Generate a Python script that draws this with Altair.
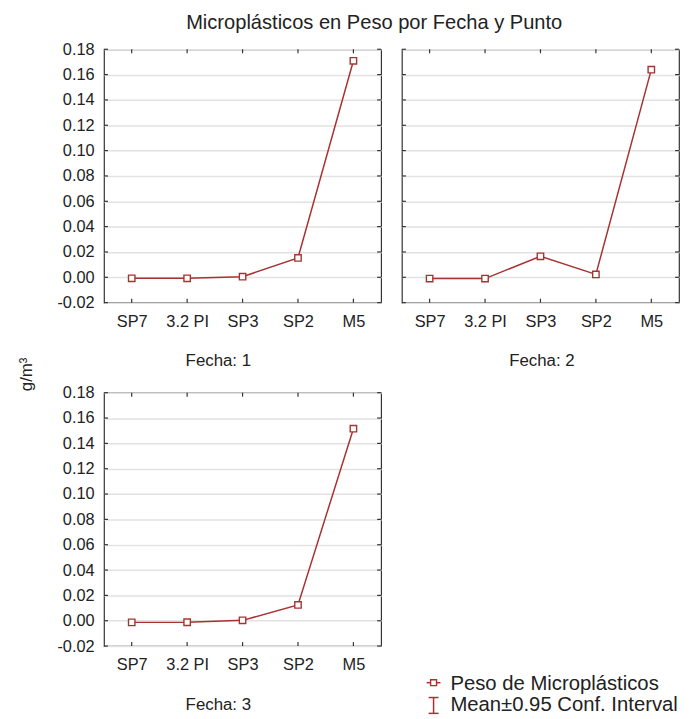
import altair as alt
import pandas as pd

# ---- data ----
puntos = ["SP7", "3.2 PI", "SP3", "SP2", "M5"]
peso_fecha1 = [-0.0008, -0.0008, 0.0005, 0.0153, 0.1709]
peso_fecha2 = [-0.0010, -0.0010, 0.0166, 0.0023, 0.1639]
peso_fecha3 = [-0.0013, -0.0012, 0.0003, 0.0125, 0.1516]
fecha_labels = ["Fecha: 1", "Fecha: 2", "Fecha: 3"]
y_ticks = [-0.02, 0.0, 0.02, 0.04, 0.06, 0.08, 0.10, 0.12, 0.14, 0.16, 0.18]
legend_labels = ["Peso de Microplásticos", "Mean±0.95 Conf. Interval"]
chart_title = "Microplásticos en Peso por Fecha y Punto"
y_title = "g/m³"

RED = "#a83232"
FONT = "Liberation Sans"
TXT = "#222222"
W, H = 280, 256


def panel(values, fecha, show_y_labels, title_x, ytitle=""):
    df = pd.DataFrame({"punto": puntos, "peso": values})
    xs = alt.Scale(type="point", domain=puntos, padding=0.5)
    ys = alt.Scale(domain=[-0.02, 0.18], nice=False, zero=False)
    x_axis = alt.Axis(
        title=fecha, labelAngle=0, ticks=False, domain=False, grid=False,
        labelFontSize=16.5, labelPadding=11, labelColor=TXT,
        titleFontSize=17, titleFontWeight="normal", titleColor=TXT,
        titleX=title_x, titleY=64, titleBaseline="alphabetic", titleAlign="center",
    )
    y_kwargs = dict(
        values=y_ticks, ticks=False, domain=False, grid=True,
        gridColor="#e2e2e2", gridWidth=1.5,
        labelFontSize=16.5, labelPadding=10, labelColor=TXT, labels=show_y_labels,
        labelExpr="replace(format(datum.value, '.2f'), '\u2212', '-')",
        title=ytitle,
    )
    if ytitle:
        y_kwargs.update(titleFontSize=17, titleFontWeight="normal", titleColor=TXT,
                        titleAngle=270, titleAlign="center", titleBaseline="middle",
                        titleX=-78, titleY=-19)
    y_axis = alt.Axis(**y_kwargs)

    X = alt.X("punto:N", scale=xs, axis=x_axis, sort=puntos)
    base = alt.Chart(df)
    line = base.mark_line(color=RED, strokeWidth=1.5).encode(
        x=X, y=alt.Y("peso:Q", scale=ys, axis=y_axis))
    pts = base.mark_point(shape="square", size=42, filled=True, fill="white",
                          stroke=RED, strokeWidth=1.4, opacity=1).encode(
        x=X, y=alt.Y("peso:Q", scale=ys, axis=y_axis))

    xt = alt.Chart(pd.DataFrame({"punto": puntos}))
    top_ticks = xt.mark_rule(color="#333", strokeWidth=1.2).encode(
        x=X, y=alt.value(0), y2=alt.value(4))
    bot_ticks = xt.mark_rule(color="#333", strokeWidth=1.2).encode(
        x=X, y=alt.value(H - 4), y2=alt.value(H))
    yt = alt.Chart(pd.DataFrame({"v": y_ticks}))
    left_ticks = yt.mark_rule(color="#333", strokeWidth=1.2).encode(
        y=alt.Y("v:Q", scale=ys, axis=y_axis), x=alt.value(0), x2=alt.value(4))
    right_ticks = yt.mark_rule(color="#333", strokeWidth=1.2).encode(
        y=alt.Y("v:Q", scale=ys, axis=y_axis), x=alt.value(W - 4), x2=alt.value(W))

    return alt.layer(line, top_ticks, bot_ticks, left_ticks, right_ticks, pts).properties(
        width=W, height=H)


p1 = panel(peso_fecha1, fecha_labels[0], True, 115)
p2 = panel(peso_fecha2, fecha_labels[1], False, 141)
p3 = panel(peso_fecha3, fecha_labels[2], True, 115, ytitle=y_title)

# ---- legend drawn as a small panel ----
leg_data = alt.Data(values=[{"a": legend_labels[0], "b": legend_labels[1]}])
lb = alt.Chart(leg_data)
leg_line = lb.mark_rule(color=RED, strokeWidth=1.5).encode(
    x=alt.value(25), x2=alt.value(39), y=alt.value(293))
leg_sq = lb.mark_point(shape="square", size=36, filled=True, fill="white",
                       stroke=RED, strokeWidth=1.4, opacity=1).encode(
    x=alt.value(32), y=alt.value(293))
leg_t1 = lb.mark_text(align="left", baseline="alphabetic", fontSize=20.5, color=TXT).encode(
    text="a:N", x=alt.value(49), y=alt.value(300))
eb_v = lb.mark_rule(color=RED, strokeWidth=1.5).encode(
    x=alt.value(32), y=alt.value(308), y2=alt.value(324))
eb_t = lb.mark_rule(color=RED, strokeWidth=1.5).encode(
    x=alt.value(27), x2=alt.value(37), y=alt.value(308))
eb_b = lb.mark_rule(color=RED, strokeWidth=1.5).encode(
    x=alt.value(27), x2=alt.value(37), y=alt.value(324))
leg_t2 = lb.mark_text(align="left", baseline="alphabetic", fontSize=20.5, color=TXT).encode(
    text="b:N", x=alt.value(49), y=alt.value(322))
legend = alt.layer(leg_line, leg_sq, leg_t1, eb_v, eb_t, eb_b, leg_t2).properties(
    width=279, height=254, view=alt.ViewConfig(stroke="transparent"))

chart = alt.concat(p1, p2, p3, legend, columns=2,
                   spacing={"row": 91, "column": 21}, bounds="flush").properties(
    title=alt.TitleParams(text=chart_title, anchor="start", frame="group", dx=83,
                          fontSize=20.3, fontWeight="normal", color=TXT, font=FONT,
                          offset=8),
    padding={"left": 9, "top": 1, "right": 0, "bottom": 0},
).configure(font=FONT).configure_view(stroke="#333333", strokeWidth=1.2)

chart.save("out.html", embed_options={"renderer": "svg", "actions": False})
